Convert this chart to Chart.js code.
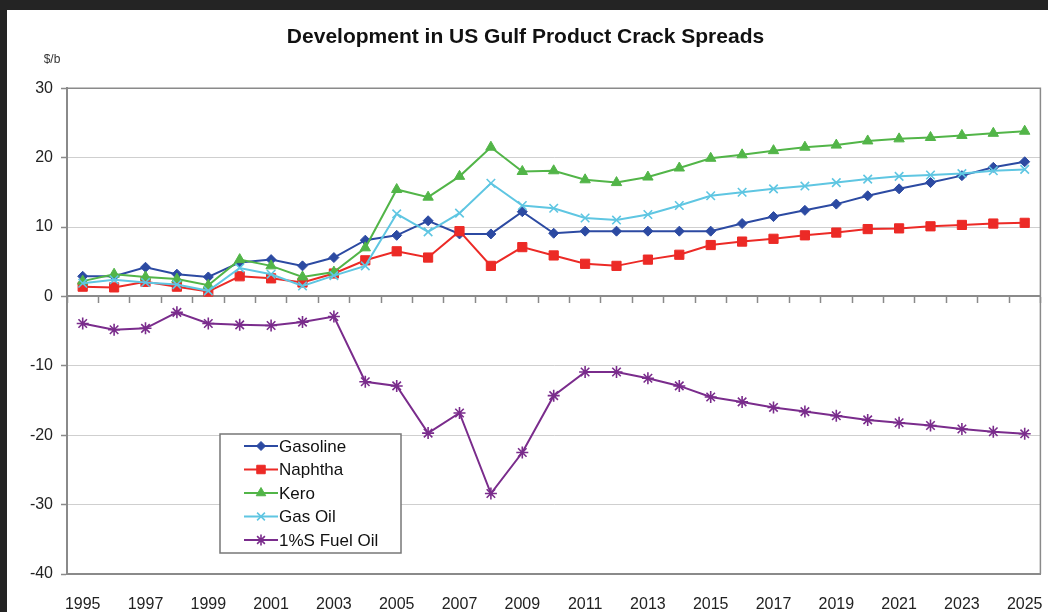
<!DOCTYPE html>
<html>
<head>
<meta charset="utf-8">
<title>US Gulf Product Crack Spreads</title>
<script src="https://cdn.jsdelivr.net/npm/chart.js@4.4.1/dist/chart.umd.min.js"></script>
<style>
  html, body { margin: 0; padding: 0; background: #242424; }
  #wrap { position: absolute; left: 7px; top: 10px; width: 1041px; height: 602px; background: #fff; }
</style>
</head>
<body>
<div id="wrap"><canvas id="crackChart"></canvas></div>
<script>
const years = ['1995', '1996', '1997', '1998', '1999', '2000', '2001', '2002', '2003', '2004',
  '2005', '2006', '2007', '2008', '2009', '2010', '2011', '2012', '2013', '2014',
  '2015', '2016', '2017', '2018', '2019', '2020', '2021', '2022', '2023', '2024', '2025'];

const gasoline = [2.9, 2.9, 4.2, 3.2, 2.8, 4.9, 5.3, 4.4, 5.6, 8.1, 8.8, 10.9, 9.0, 9.0, 12.2, 9.1,
  9.4, 9.4, 9.4, 9.4, 9.4, 10.5, 11.5, 12.4, 13.3, 14.5, 15.5, 16.4, 17.4, 18.6, 19.4];
const naphtha = [1.4, 1.3, 2.1, 1.4, 0.7, 2.9, 2.6, 2.0, 3.3, 5.2, 6.5, 5.6, 9.4, 4.4, 7.1, 5.9,
  4.7, 4.4, 5.3, 6.0, 7.4, 7.9, 8.3, 8.8, 9.2, 9.7, 9.8, 10.1, 10.3, 10.5, 10.6];
const kero = [2.2, 3.2, 2.8, 2.5, 1.6, 5.3, 4.4, 2.8, 3.5, 7.0, 15.4, 14.3, 17.3, 21.5, 18.0, 18.1,
  16.8, 16.4, 17.2, 18.5, 19.9, 20.4, 21.0, 21.5, 21.8, 22.4, 22.7, 22.9, 23.2, 23.5, 23.8];
const gasOil = [1.9, 2.4, 2.0, 1.7, 0.8, 4.1, 3.2, 1.5, 3.0, 4.4, 11.9, 9.3, 12.0, 16.3, 13.1, 12.7,
  11.3, 11.0, 11.8, 13.1, 14.5, 15.0, 15.5, 15.9, 16.4, 16.9, 17.3, 17.5, 17.7, 18.1, 18.3];
const fuelOil = [-3.9, -4.8, -4.6, -2.3, -3.9, -4.1, -4.2, -3.7, -2.9, -12.3, -12.9, -19.7, -16.8, -28.4, -22.5, -14.3,
  -10.9, -10.9, -11.8, -12.9, -14.5, -15.2, -16.0, -16.6, -17.2, -17.8, -18.2, -18.6, -19.1, -19.5, -19.8];

const seriesNames = ['Gasoline', 'Naphtha', 'Kero', 'Gas Oil', '1%S Fuel Oil'];

const FONT = '"Liberation Sans", Arial, sans-serif';
const AXIS_GREY = '#8a8a8a';

function makeSeries(name, values, color, style, radius, idx) {
  return {
    label: name,
    data: values,
    borderColor: color,
    backgroundColor: color,
    pointBackgroundColor: color,
    pointBorderColor: color,
    pointStyle: style,
    pointRadius: radius,
    pointBorderWidth: (style === 'crossRot' || style === 'star') ? 1.6 : 1,
    borderWidth: 2,
    tension: 0,
    fill: false,
    order: 5 - idx
  };
}

// frame on top/right, unit label and the boxed legend
const extras = {
  id: 'extras',
  afterDraw(chart) {
    const ctx = chart.ctx;
    const a = chart.chartArea;
    ctx.save();
    ctx.strokeStyle = AXIS_GREY;
    ctx.lineWidth = 1.5;
    ctx.beginPath();
    ctx.moveTo(a.left, a.top);
    ctx.lineTo(a.right, a.top);
    ctx.lineTo(a.right, a.bottom);
    ctx.stroke();

    ctx.fillStyle = '#333';
    ctx.font = '12px ' + FONT;
    ctx.textAlign = 'center';
    ctx.textBaseline = 'middle';
    ctx.fillText('$/b', 45, 50);

    // legend
    const bx = 213, by = 424, bw = 181, bh = 119;
    ctx.fillStyle = '#fff';
    ctx.fillRect(bx, by, bw, bh);
    ctx.strokeStyle = '#777';
    ctx.lineWidth = 1.5;
    ctx.strokeRect(bx, by, bw, bh);

    ctx.font = '17px ' + FONT;
    ctx.textAlign = 'left';
    chart.data.datasets.forEach((ds, i) => {
      const y = 436 + i * 23.5;
      ctx.strokeStyle = ds.borderColor;
      ctx.fillStyle = ds.borderColor;
      ctx.lineWidth = 2;
      ctx.beginPath();
      ctx.moveTo(237, y);
      ctx.lineTo(271, y);
      ctx.stroke();
      ctx.lineWidth = ds.pointBorderWidth;
      Chart.helpers.drawPoint(ctx, {
        pointStyle: ds.pointStyle,
        radius: ds.pointRadius - 0.5,
        rotation: 0,
        borderWidth: ds.pointBorderWidth
      }, 254, y);
      ctx.fillStyle = '#111';
      ctx.fillText(ds.label, 272, y + 1);
    });
    ctx.restore();
  }
};

const ctx = document.getElementById('crackChart').getContext('2d');
new Chart(ctx, {
  type: 'line',
  data: {
    labels: years,
    datasets: [
      makeSeries(seriesNames[0], gasoline, '#2c4aa2', 'rectRot', 5, 0),
      makeSeries(seriesNames[1], naphtha, '#ec2a26', 'rect', 6.5, 1),
      makeSeries(seriesNames[2], kero, '#52b548', 'triangle', 6, 2),
      makeSeries(seriesNames[3], gasOil, '#5fc6e2', 'crossRot', 6, 3),
      makeSeries(seriesNames[4], fuelOil, '#7a2c8c', 'star', 6, 4)
    ]
  },
  options: {
    responsive: true,
    maintainAspectRatio: false,
    animation: false,
    layout: { padding: { left: 0, right: 4, top: 0, bottom: 0 } },
    plugins: {
      legend: { display: false },
      tooltip: { enabled: false },
      title: {
        display: true,
        text: 'Development in US Gulf Product Crack Spreads',
        color: '#111',
        font: { family: FONT, size: 21, weight: 'bold' },
        padding: { top: 15, bottom: 38 }
      }
    },
    scales: {
      x: {
        type: 'category',
        position: 'bottom',
        offset: true,
        grid: { display: false },
        border: { display: true, color: AXIS_GREY, width: 2 },
        ticks: {
          autoSkip: false,
          maxRotation: 0,
          padding: 13,
          color: '#222',
          font: { family: FONT, size: 16 },
          callback(value, index) { return index % 2 === 0 ? this.getLabelForValue(value) : ''; }
        },
        afterFit(scale) {
          scale.height = 38;
          scale.paddingLeft = 0;
          scale.paddingRight = 0;
        }
      },
      x2: {
        type: 'category',
        axis: 'x',
        position: { y: 0 },
        offset: true,
        grid: {
          display: true,
          drawOnChartArea: false,
          offset: true,
          tickLength: 6,
          tickColor: AXIS_GREY,
          tickWidth: 1.5
        },
        border: { display: true, color: AXIS_GREY, width: 2 },
        ticks: { display: false },
        afterFit(scale) {
          scale.paddingLeft = 0;
          scale.paddingRight = 0;
        }
      },
      y: {
        min: -40,
        max: 30,
        ticks: {
          stepSize: 10,
          padding: 8,
          color: '#222',
          font: { family: FONT, size: 16 }
        },
        grid: {
          color(c) {
            const v = c.tick ? c.tick.value : null;
            return (v === 30 || v === 0 || v === -40) ? 'rgba(0,0,0,0)' : '#cfcfcf';
          },
          lineWidth: 1,
          borderDash: [2, 2],
          tickLength: 6,
          tickColor: AXIS_GREY,
          tickWidth: 1.5,
          tickBorderDash: []
        },
        border: { display: true, color: AXIS_GREY, width: 2 },
        afterFit(scale) { scale.width = 60; }
      }
    }
  },
  plugins: [extras]
});
</script>
</body>
</html>
